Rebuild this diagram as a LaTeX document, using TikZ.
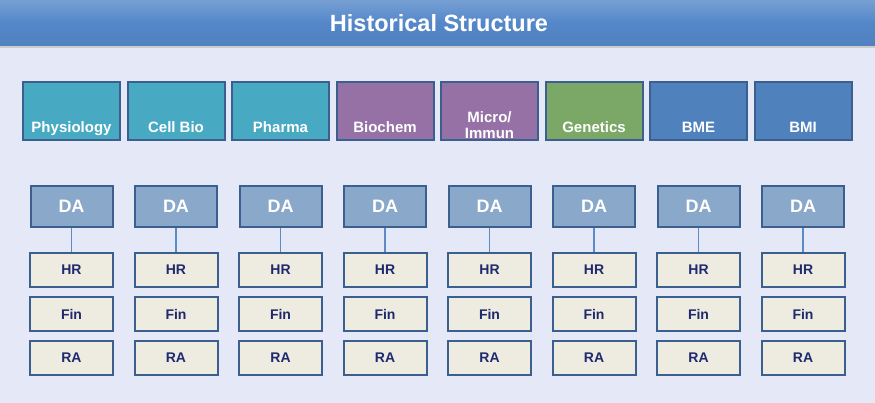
\documentclass[tikz,border=0pt]{standalone}
\usepackage{fontspec}
\setmainfont{Liberation Sans}
\usepackage{xcolor}
\usepackage{tikz}
\usetikzlibrary{positioning}

\definecolor{bgcol}{HTML}{E5E8F6}
\definecolor{barcol}{HTML}{5487C9}
\definecolor{edgecol}{HTML}{3B5F8E}
\definecolor{tealcol}{HTML}{48AAC2}
\definecolor{plumcol}{HTML}{9571A6}
\definecolor{leafcol}{HTML}{7BA866}
\definecolor{skycol}{HTML}{4F81BD}
\definecolor{dacol}{HTML}{8AA8C9}
\definecolor{unitcol}{HTML}{EEEBE1}
\definecolor{navycol}{HTML}{1F2A6E}
\definecolor{linkcol}{HTML}{5B8AC6}

\begin{document}
\begin{tikzpicture}[
        x=1pt, y=-1pt,
        dept/.style={rectangle, minimum width=97pt, minimum height=58pt, inner ysep=0pt, align=center, text height=44pt, text depth=0pt, draw=edgecol, line width=2pt, text=white, font=\fontsize{15}{16}\selectfont\bfseries},
        admin/.style={rectangle, minimum width=82pt, minimum height=41pt, draw=edgecol, line width=2pt, fill=dacol, text=white, font=\fontsize{18}{20}\selectfont\bfseries},
        unit/.style={rectangle, minimum width=83pt, minimum height=34pt, draw=edgecol, line width=2pt, fill=unitcol, text=navycol, font=\fontsize{14}{16}\selectfont\bfseries},
        link/.style={draw=linkcol, line width=1.2pt}
    ]

        % ===== 背景与标题 =====
        \fill[bgcol] (0,0) rectangle (875,403);
        \shade[top color=barcol!80!white, bottom color=barcol!95!black, middle color=barcol] (0,0) rectangle (875,46);
        \fill[black!20] (0,46) rectangle (875,48);
        \node (title) at (439,23) [text=white, font=\fontsize{23.5}{26}\selectfont\bfseries] {Historical Structure};

        % ===== 院系 =====
        \node (physiology) at (71.5,111) [dept, fill=tealcol] {Physiology};
        \node (cellbio) [dept, fill=tealcol, right=5.5pt of physiology] {Cell Bio};
        \node (pharma) [dept, fill=tealcol, right=5.5pt of cellbio] {Pharma};
        \node (biochem) [dept, fill=plumcol, right=5.5pt of pharma] {Biochem};
        \node (micro) [dept, fill=plumcol, text height=55pt, right=5.5pt of biochem] {Micro/\\Immun};
        \node (genetics) [dept, fill=leafcol, right=5.5pt of micro] {Genetics};
        \node (bme) [dept, fill=skycol, right=5.5pt of genetics] {BME};
        \node (bmi) [dept, fill=skycol, right=5.5pt of bme] {BMI};

        % ===== DA =====
        \node (da1) [admin, below=44pt of physiology] {DA};
        \node (da2) [admin, below=44pt of cellbio] {DA};
        \node (da3) [admin, below=44pt of pharma] {DA};
        \node (da4) [admin, below=44pt of biochem] {DA};
        \node (da5) [admin, below=44pt of micro] {DA};
        \node (da6) [admin, below=44pt of genetics] {DA};
        \node (da7) [admin, below=44pt of bme] {DA};
        \node (da8) [admin, below=44pt of bmi] {DA};

        % ===== HR =====
        \node (hr1) [unit, below=24pt of da1] {HR};
        \node (hr2) [unit, below=24pt of da2] {HR};
        \node (hr3) [unit, below=24pt of da3] {HR};
        \node (hr4) [unit, below=24pt of da4] {HR};
        \node (hr5) [unit, below=24pt of da5] {HR};
        \node (hr6) [unit, below=24pt of da6] {HR};
        \node (hr7) [unit, below=24pt of da7] {HR};
        \node (hr8) [unit, below=24pt of da8] {HR};

        % ===== Fin =====
        \node (fin1) [unit, below=8pt of hr1] {Fin};
        \node (fin2) [unit, below=8pt of hr2] {Fin};
        \node (fin3) [unit, below=8pt of hr3] {Fin};
        \node (fin4) [unit, below=8pt of hr4] {Fin};
        \node (fin5) [unit, below=8pt of hr5] {Fin};
        \node (fin6) [unit, below=8pt of hr6] {Fin};
        \node (fin7) [unit, below=8pt of hr7] {Fin};
        \node (fin8) [unit, below=8pt of hr8] {Fin};

        % ===== RA =====
        \node (ra1) [unit, below=8pt of fin1] {RA};
        \node (ra2) [unit, below=8pt of fin2] {RA};
        \node (ra3) [unit, below=8pt of fin3] {RA};
        \node (ra4) [unit, below=8pt of fin4] {RA};
        \node (ra5) [unit, below=8pt of fin5] {RA};
        \node (ra6) [unit, below=8pt of fin6] {RA};
        \node (ra7) [unit, below=8pt of fin7] {RA};
        \node (ra8) [unit, below=8pt of fin8] {RA};

        % ===== 连线 =====
        \draw [link] (da1) -- (hr1);
        \draw [link] (da2) -- (hr2);
        \draw [link] (da3) -- (hr3);
        \draw [link] (da4) -- (hr4);
        \draw [link] (da5) -- (hr5);
        \draw [link] (da6) -- (hr6);
        \draw [link] (da7) -- (hr7);
        \draw [link] (da8) -- (hr8);

    \end{tikzpicture}
\end{document}
